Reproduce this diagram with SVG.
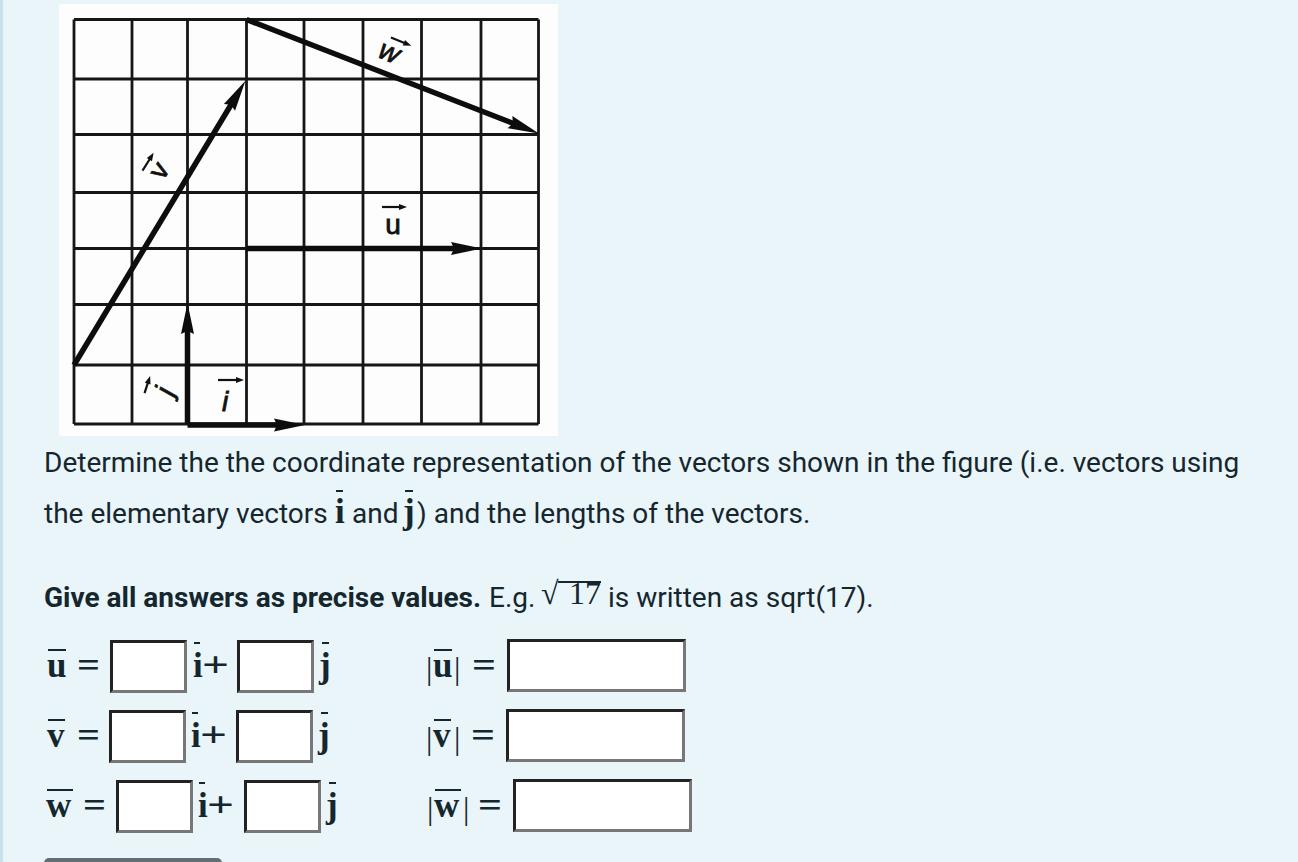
<svg xmlns="http://www.w3.org/2000/svg" width="1298" height="862" viewBox="0 0 1298 862">
<style>
.body{font-family:Roboto,"Liberation Sans",sans-serif;font-size:28px;fill:#15262f}
.bold{font-weight:bold}
.mb{font-family:"Liberation Serif","Times New Roman",serif;font-weight:bold;font-size:35px;fill:#14262e}
.mr{font-family:"Liberation Serif","Times New Roman",serif;font-size:32px;fill:#14262e}
.bar{stroke:#14262e;stroke-width:2}
.grid{stroke:#161616;stroke-width:2.8;fill:none}
.vec{stroke:#0d0d0d;stroke-width:5.5;fill:none;marker-end:url(#ah)}
.lbl{font-family:"Liberation Sans",Arial,sans-serif;font-size:28px;fill:#111;stroke:#111;stroke-width:0.8}
.lbl-arrow{stroke:#111;stroke-width:2.2;fill:none;marker-end:url(#sah)}
</style>
<defs>
<marker id="ah" markerUnits="userSpaceOnUse" markerWidth="32" markerHeight="14" refX="15" refY="7" orient="auto" overflow="visible">
<path d="M0,0.5 L31,7 L0,13.5 L3,7 Z" fill="#0d0d0d"/>
</marker>
<marker id="sah" markerUnits="userSpaceOnUse" markerWidth="8" markerHeight="6" refX="2" refY="3" orient="auto" overflow="visible">
<path d="M0,0 L8,3 L0,6 Z" fill="#111"/>
</marker>
<g id="box-s">
<rect width="77" height="53" fill="#222"/>
<polygon points="77,0 77,53 0,53 3,50 74,50 74,3" fill="#777"/>
<rect x="3" y="3" width="71" height="47" fill="#fff"/>
</g>
<g id="box-l">
<rect width="179" height="53" fill="#222"/>
<polygon points="179,0 179,53 0,53 3,50 176,50 176,3" fill="#777"/>
<rect x="3" y="3" width="173" height="47" fill="#fff"/>
</g>
</defs>

<rect width="1298" height="862" fill="#e9f5f8"/>
<rect x="0" y="0" width="3" height="862" fill="#c8e2ea"/>

<g id="figure">
<rect x="59" y="4" width="499" height="432" fill="#fdfdfd"/>
<g id="grid" class="grid">
<line x1="74" y1="19.5" x2="74" y2="424"/>
<line x1="132" y1="19.5" x2="132" y2="424"/>
<line x1="187.5" y1="19.5" x2="187.5" y2="424"/>
<line x1="246.5" y1="19.5" x2="246.5" y2="424"/>
<line x1="304" y1="19.5" x2="304" y2="424"/>
<line x1="363" y1="19.5" x2="363" y2="424"/>
<line x1="421.5" y1="19.5" x2="421.5" y2="424"/>
<line x1="481" y1="19.5" x2="481" y2="424"/>
<line x1="538.5" y1="19.5" x2="538.5" y2="424"/>
<line x1="74" y1="19.5" x2="538.5" y2="19.5"/>
<line x1="74" y1="79" x2="538.5" y2="79"/>
<line x1="74" y1="134.5" x2="538.5" y2="134.5"/>
<line x1="74" y1="192.5" x2="538.5" y2="192.5"/>
<line x1="74" y1="248.5" x2="538.5" y2="248.5"/>
<line x1="74" y1="304.5" x2="538.5" y2="304.5"/>
<line x1="74" y1="365" x2="538.5" y2="365"/>
<line x1="74" y1="424" x2="538.5" y2="424"/>
</g>
<g id="vectors">
<path id="vec-w" class="vec" d="M246.5,19.5 L524,127.6"/>
<path id="vec-v" class="vec" d="M74,365 L237.2,94.5"/>
<path id="vec-u" class="vec" d="M246.5,248.5 L466,248.5"/>
<path id="vec-j" class="vec" d="M187.5,424 L187.5,319"/>
<path id="vec-i" class="vec" d="M187.5,425 L289,425"/>
</g>
<g id="labels">
<g id="lbl-w" transform="translate(389,53) rotate(22)">
<text class="lbl" x="0" y="8" text-anchor="middle" font-style="italic">w</text>
<path class="lbl-arrow" d="M-4,-15 L12,-15"/>
</g>
<g id="lbl-v" transform="translate(160,171) rotate(-58)">
<text class="lbl" x="0" y="8" text-anchor="middle">v</text>
<path class="lbl-arrow" d="M-9,-15 L6,-15"/>
</g>
<g id="lbl-u">
<text class="lbl" x="393" y="234" text-anchor="middle" font-size="30">u</text>
<path class="lbl-arrow" d="M382,207 L401,207"/>
</g>
<g id="lbl-i">
<text class="lbl" x="225" y="411" text-anchor="middle" font-style="italic">i</text>
<path class="lbl-arrow" d="M218,380 L238,380"/>
</g>
<g id="lbl-j" transform="translate(167,392) rotate(-72)">
<text class="lbl" x="0" y="7" text-anchor="middle" font-style="italic">j</text>
<path class="lbl-arrow" d="M-8,-21 L4,-21"/>
</g>
</g>
</g>

<g id="question">
<text class="body" x="44" y="472">Determine the the coordinate representation of the vectors shown in the figure (i.e. vectors using</text>
<text class="body" x="44" y="523">the elementary vectors</text>
<text class="mb" x="335" y="523" font-size="30">i</text>
<line class="bar" x1="336" y1="491" x2="343" y2="491"/>
<text class="body" x="352" y="523">and</text>
<text class="mb" x="403" y="523" font-size="30">j</text>
<line class="bar" x1="405" y1="491" x2="413" y2="491"/>
<text class="body" x="417" y="523">) and the lengths of the vectors.</text>
<text class="body bold" x="44" y="607">Give all answers as precise values.</text>
<text class="body" x="489" y="607">E.g.</text>
<text class="mr" x="541" y="604" font-size="32">√</text>
<line class="bar" x1="558" y1="582" x2="601" y2="582" stroke-width="1.5"/>
<text class="mr" x="569" y="604" font-size="28">17</text>
<text class="body" x="608" y="607">is written as sqrt(17).</text>
</g>

<g id="row-u">
<text class="mb" x="47" y="677">u</text>
<line class="bar" x1="48" y1="650" x2="66" y2="650"/>
<text class="mb" x="77" y="677" font-size="34" textLength="23" lengthAdjust="spacingAndGlyphs">=</text>
<use href="#box-s" x="110" y="640"/>
<text class="mb" x="193" y="677">i</text>
<line class="bar" x1="194" y1="643" x2="200" y2="643"/>
<text class="mb" x="202" y="677" font-size="36" textLength="27" lengthAdjust="spacingAndGlyphs">+</text>
<use href="#box-s" x="237" y="640"/>
<text class="mb" x="319" y="677">j</text>
<line class="bar" x1="322" y1="643" x2="329" y2="643"/>
<text class="mr" x="426" y="679">|</text>
<text class="mb" x="433" y="677">u</text>
<line class="bar" x1="434" y1="650" x2="452" y2="650"/>
<text class="mr" x="454" y="679">|</text>
<text class="mb" x="472" y="677" font-size="34" textLength="24" lengthAdjust="spacingAndGlyphs">=</text>
<use href="#box-l" x="507" y="639"/>
</g>

<g id="row-v">
<text class="mb" x="47" y="747">v</text>
<line class="bar" x1="48" y1="720" x2="65" y2="720"/>
<text class="mb" x="77" y="747" font-size="34" textLength="23" lengthAdjust="spacingAndGlyphs">=</text>
<use href="#box-s" x="109" y="710"/>
<text class="mb" x="191" y="747">i</text>
<line class="bar" x1="192" y1="713" x2="198" y2="713"/>
<text class="mb" x="200" y="747" font-size="36" textLength="27" lengthAdjust="spacingAndGlyphs">+</text>
<use href="#box-s" x="236" y="710"/>
<text class="mb" x="318" y="747">j</text>
<line class="bar" x1="321" y1="713" x2="328" y2="713"/>
<text class="mr" x="426" y="749">|</text>
<text class="mb" x="433" y="747">v</text>
<line class="bar" x1="434" y1="720" x2="451" y2="720"/>
<text class="mr" x="454" y="749">|</text>
<text class="mb" x="471" y="747" font-size="34" textLength="24" lengthAdjust="spacingAndGlyphs">=</text>
<use href="#box-l" x="506" y="709"/>
</g>

<g id="row-w">
<text class="mb" x="46" y="817">w</text>
<line class="bar" x1="47" y1="790" x2="73" y2="790"/>
<text class="mb" x="83" y="817" font-size="34" textLength="23" lengthAdjust="spacingAndGlyphs">=</text>
<use href="#box-s" x="116" y="780"/>
<text class="mb" x="198" y="817">i</text>
<line class="bar" x1="199" y1="783" x2="205" y2="783"/>
<text class="mb" x="207" y="817" font-size="36" textLength="27" lengthAdjust="spacingAndGlyphs">+</text>
<use href="#box-s" x="244" y="780"/>
<text class="mb" x="326" y="817">j</text>
<line class="bar" x1="329" y1="783" x2="336" y2="783"/>
<text class="mr" x="427" y="819">|</text>
<text class="mb" x="434" y="817">w</text>
<line class="bar" x1="435" y1="790" x2="461" y2="790"/>
<text class="mr" x="463" y="819">|</text>
<text class="mb" x="478" y="817" font-size="34" textLength="24" lengthAdjust="spacingAndGlyphs">=</text>
<use href="#box-l" x="513" y="779"/>
</g>

<rect id="button" x="44" y="858" width="178" height="14" rx="5" fill="#646d72"/>
</svg>
